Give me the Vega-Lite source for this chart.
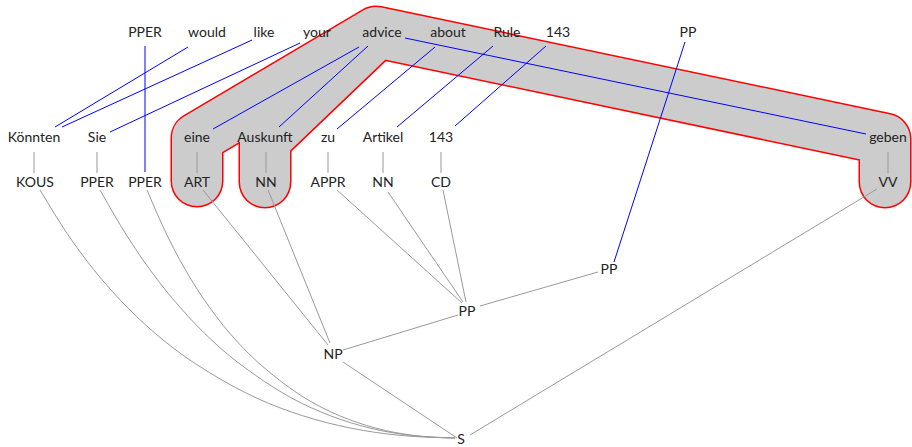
{
  "$schema": "https://vega.github.io/schema/vega-lite/v6.json",
  "width": 912,
  "height": 447,
  "autosize": {"type": "fit", "contains": "padding"},
  "padding": 0,
  "background": "white",
  "config": {"view": {"stroke": null}},
  "datasets": {
    "hl": [
      {"branch": "A", "o": 0, "x": 197, "y": 181},
      {"branch": "A", "o": 1, "x": 197, "y": 138},
      {"branch": "A", "o": 2, "x": 376, "y": 32},
      {"branch": "A", "o": 3, "x": 885, "y": 139},
      {"branch": "A", "o": 4, "x": 885, "y": 182},
      {"branch": "B", "o": 0, "x": 265, "y": 182},
      {"branch": "B", "o": 1, "x": 265, "y": 140},
      {"branch": "B", "o": 2, "x": 376, "y": 34}
    ],
    "align": [
      {"x": 188, "y": 47, "x2": 55, "y2": 127},
      {"x": 252, "y": 40, "x2": 62, "y2": 127},
      {"x": 300, "y": 43, "x2": 110, "y2": 132},
      {"x": 145, "y": 46, "x2": 145, "y2": 172},
      {"x": 359, "y": 47, "x2": 213, "y2": 129},
      {"x": 368, "y": 46, "x2": 279, "y2": 127},
      {"x": 435, "y": 47, "x2": 337, "y2": 129},
      {"x": 405, "y": 38, "x2": 866, "y2": 134},
      {"x": 493, "y": 46, "x2": 397, "y2": 127},
      {"x": 546, "y": 46, "x2": 455, "y2": 126},
      {"x": 685, "y": 42, "x2": 614, "y2": 262}
    ],
    "edges": [
      {"x": 34, "y": 152, "x2": 34, "y2": 173},
      {"x": 97, "y": 152, "x2": 97, "y2": 173},
      {"x": 197, "y": 152, "x2": 197, "y2": 173},
      {"x": 266, "y": 152, "x2": 266, "y2": 173},
      {"x": 328, "y": 152, "x2": 328, "y2": 173},
      {"x": 383, "y": 152, "x2": 383, "y2": 173},
      {"x": 441, "y": 152, "x2": 441, "y2": 173},
      {"x": 888, "y": 152, "x2": 888, "y2": 173},
      {"x": 203, "y": 190, "x2": 328, "y2": 345},
      {"x": 268, "y": 190, "x2": 330, "y2": 343},
      {"x": 337, "y": 190, "x2": 462, "y2": 303},
      {"x": 388, "y": 192, "x2": 463, "y2": 302},
      {"x": 443, "y": 190, "x2": 466, "y2": 302},
      {"x": 458, "y": 315, "x2": 343, "y2": 350},
      {"x": 343, "y": 362, "x2": 457, "y2": 438},
      {"x": 598, "y": 272, "x2": 480, "y2": 306},
      {"x": 877, "y": 189, "x2": 470, "y2": 435}
    ],
    "curves": [
      {"c": "KOUS", "o": 0, "x": 40, "y": 190},
      {"c": "KOUS", "o": 1, "x": 69.5, "y": 237},
      {"c": "KOUS", "o": 2, "x": 101.7, "y": 279.3},
      {"c": "KOUS", "o": 3, "x": 136.6, "y": 316.5},
      {"c": "KOUS", "o": 4, "x": 174.1, "y": 348.7},
      {"c": "KOUS", "o": 5, "x": 214.3, "y": 375.5},
      {"c": "KOUS", "o": 6, "x": 257.1, "y": 398.3},
      {"c": "KOUS", "o": 7, "x": 302.6, "y": 415.7},
      {"c": "KOUS", "o": 8, "x": 350.7, "y": 428.1},
      {"c": "KOUS", "o": 9, "x": 401.6, "y": 435.5},
      {"c": "KOUS", "o": 10, "x": 455, "y": 438},
      {"c": "PPER1", "o": 0, "x": 100, "y": 190},
      {"c": "PPER1", "o": 1, "x": 127.7, "y": 237},
      {"c": "PPER1", "o": 2, "x": 157.1, "y": 279.3},
      {"c": "PPER1", "o": 3, "x": 188.3, "y": 316.5},
      {"c": "PPER1", "o": 4, "x": 221.1, "y": 348.7},
      {"c": "PPER1", "o": 5, "x": 255.8, "y": 375.5},
      {"c": "PPER1", "o": 6, "x": 292.1, "y": 398.3},
      {"c": "PPER1", "o": 7, "x": 330.3, "y": 415.7},
      {"c": "PPER1", "o": 8, "x": 370.1, "y": 428.1},
      {"c": "PPER1", "o": 9, "x": 411.7, "y": 435.5},
      {"c": "PPER1", "o": 10, "x": 455, "y": 438},
      {"c": "PPER2", "o": 0, "x": 147, "y": 190},
      {"c": "PPER2", "o": 1, "x": 167.9, "y": 237},
      {"c": "PPER2", "o": 2, "x": 191, "y": 279.3},
      {"c": "PPER2", "o": 3, "x": 216.3, "y": 316.5},
      {"c": "PPER2", "o": 4, "x": 243.8, "y": 348.7},
      {"c": "PPER2", "o": 5, "x": 273.5, "y": 375.5},
      {"c": "PPER2", "o": 6, "x": 305.4, "y": 398.3},
      {"c": "PPER2", "o": 7, "x": 339.5, "y": 415.7},
      {"c": "PPER2", "o": 8, "x": 375.8, "y": 428.1},
      {"c": "PPER2", "o": 9, "x": 414.4, "y": 435.5},
      {"c": "PPER2", "o": 10, "x": 455, "y": 438}
    ],
    "labels": [
      {"t": "PPER", "x": 145, "y": 33},
      {"t": "would", "x": 207, "y": 33},
      {"t": "like", "x": 264, "y": 33},
      {"t": "your", "x": 317, "y": 33},
      {"t": "advice", "x": 382, "y": 33},
      {"t": "about", "x": 448, "y": 33},
      {"t": "Rule", "x": 507, "y": 33},
      {"t": "143", "x": 558, "y": 33},
      {"t": "PP", "x": 688, "y": 33},
      {"t": "Könnten", "x": 34, "y": 138},
      {"t": "Sie", "x": 97, "y": 138},
      {"t": "eine", "x": 197, "y": 138},
      {"t": "Auskunft", "x": 265, "y": 138},
      {"t": "zu", "x": 328, "y": 138},
      {"t": "Artikel", "x": 383, "y": 138},
      {"t": "143", "x": 441, "y": 138},
      {"t": "geben", "x": 888, "y": 138},
      {"t": "KOUS", "x": 35, "y": 183},
      {"t": "PPER", "x": 97, "y": 183},
      {"t": "PPER", "x": 145, "y": 183},
      {"t": "ART", "x": 197, "y": 183},
      {"t": "NN", "x": 266, "y": 183},
      {"t": "APPR", "x": 328, "y": 183},
      {"t": "NN", "x": 383, "y": 183},
      {"t": "CD", "x": 441, "y": 183},
      {"t": "VV", "x": 888, "y": 183},
      {"t": "PP", "x": 609, "y": 270},
      {"t": "PP", "x": 467, "y": 312},
      {"t": "NP", "x": 333, "y": 355},
      {"t": "S", "x": 461, "y": 440}
    ]
  },
  "layer": [
    {
      "data": {"name": "hl"},
      "mark": {"type": "line", "color": "#ff0000", "strokeWidth": 53, "strokeCap": "round", "strokeJoin": "round"},
      "encoding": {
        "x": {"field": "x", "type": "quantitative", "scale": {"domain": [0, 912], "nice": false, "zero": false}, "axis": null},
        "y": {"field": "y", "type": "quantitative", "scale": {"domain": [0, 447], "nice": false, "zero": false, "reverse": true}, "axis": null},
        "detail": {"field": "branch"},
        "order": {"field": "o", "type": "quantitative"}
      }
    },
    {
      "data": {"name": "hl"},
      "mark": {"type": "line", "color": "#cccccc", "strokeWidth": 50, "strokeCap": "round", "strokeJoin": "round"},
      "encoding": {
        "x": {"field": "x", "type": "quantitative"},
        "y": {"field": "y", "type": "quantitative"},
        "detail": {"field": "branch"},
        "order": {"field": "o", "type": "quantitative"}
      }
    },
    {
      "data": {"name": "edges"},
      "mark": {"type": "rule", "color": "#999999", "strokeWidth": 1},
      "encoding": {
        "x": {"field": "x", "type": "quantitative"},
        "y": {"field": "y", "type": "quantitative"},
        "x2": {"field": "x2"},
        "y2": {"field": "y2"}
      }
    },
    {
      "data": {"name": "curves"},
      "mark": {"type": "line", "color": "#999999", "strokeWidth": 1, "interpolate": "monotone"},
      "encoding": {
        "x": {"field": "x", "type": "quantitative"},
        "y": {"field": "y", "type": "quantitative"},
        "detail": {"field": "c"},
        "order": {"field": "o", "type": "quantitative"}
      }
    },
    {
      "data": {"name": "align"},
      "mark": {"type": "rule", "color": "#0000ff", "strokeWidth": 1},
      "encoding": {
        "x": {"field": "x", "type": "quantitative"},
        "y": {"field": "y", "type": "quantitative"},
        "x2": {"field": "x2"},
        "y2": {"field": "y2"}
      }
    },
    {
      "data": {"name": "labels"},
      "mark": {"type": "text", "font": "Lato", "fontSize": 14, "color": "#222222", "align": "center", "baseline": "middle"},
      "encoding": {
        "x": {"field": "x", "type": "quantitative"},
        "y": {"field": "y", "type": "quantitative"},
        "text": {"field": "t"}
      }
    }
  ]
}
